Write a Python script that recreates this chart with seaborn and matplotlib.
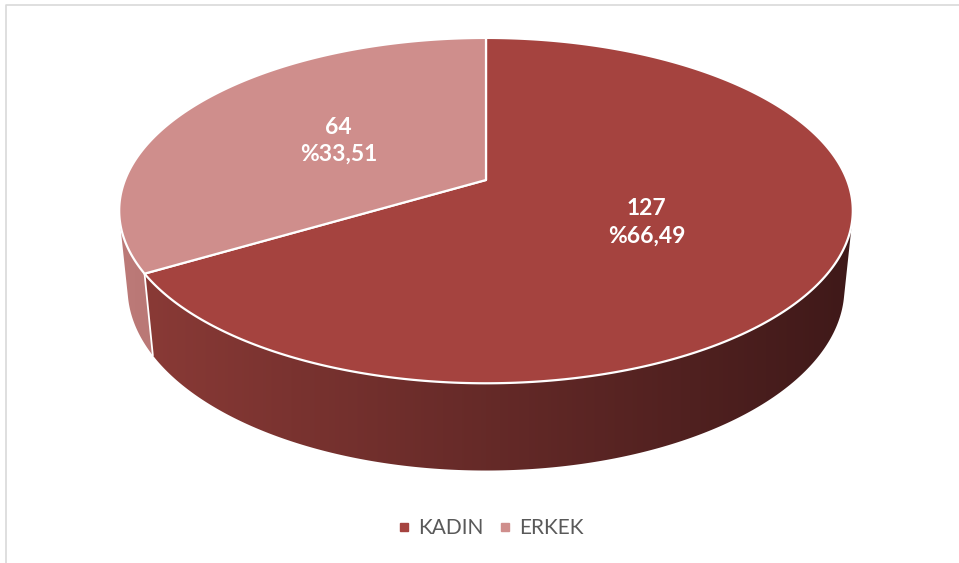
import numpy as np
import matplotlib
matplotlib.use("Agg")
import matplotlib.pyplot as plt
import seaborn as sns
from matplotlib.patches import Polygon
from matplotlib.lines import Line2D
from matplotlib.colors import to_rgb

# ---- data ----
categories = ["KADIN", "ERKEK"]
counts = [127, 64]
percent_labels = ["%66,49", "%33,51"]
top_colors = ["#a5433f", "#cf8e8c"]
side_left_colors = ["#8c3b37", "#bc7a78"]
side_right_colors = ["#3f1919", "#8a4a48"]

sns.set_theme(style="white")
plt.rcParams['font.family'] = ['Lato', 'DejaVu Sans']

W, H = 959, 563
fig = plt.figure(figsize=(W / 100, H / 100), dpi=100)
ax = fig.add_axes([0, 0, 1, 1])
ax.set_xlim(0, W)
ax.set_ylim(H, 0)
ax.axis('off')

# ---- 3D projection of the pie ----
CX, CY = 486, 180
S = 361.0
L = 5.0
PHI = np.radians(27.6)
T = 0.245
cphi, sphi = np.cos(PHI), np.sin(PHI)


def proj(u, v, y):
    depth = -y * sphi + v * cphi + L
    up = y * cphi + v * sphi
    return CX + S * L * u / depth, CY - S * L * up / depth


def arc(a1, a2, y, n=300):
    th = np.radians(np.linspace(a1, a2, n))
    return proj(np.cos(th), np.sin(th), y)


total = float(sum(counts))
fracs = [c / total for c in counts]
starts, ends = [], []
a = 90.0
for f in fracs:
    starts.append(a)
    ends.append(a - 360 * f)
    a -= 360 * f

# visible wall range (outer wall faces the camera)
lim = np.degrees(np.arcsin(1.0 / (L * cphi)))
vis_lo, vis_hi = -180 + lim, -lim  # in degrees

xmin_pie, xmax_pie = 119, 853

# walls with horizontal gradient, clipped to wall polygon
for i in range(len(counts)):
    hi, lo = starts[i], ends[i]
    for shift in (0, -360, 360):
        a_hi = min(hi + shift, vis_hi)
        a_lo = max(lo + shift, vis_lo)
        if a_hi <= a_lo:
            continue
        tx, ty = arc(a_lo, a_hi, 0)
        bx, by = arc(a_hi, a_lo, -T)
        pts = list(zip(tx, ty)) + list(zip(bx, by))
        poly = Polygon(pts, closed=True, facecolor="none", edgecolor="none")
        ax.add_patch(poly)
        cl = np.array(to_rgb(side_left_colors[i]))
        cr = np.array(to_rgb(side_right_colors[i]))
        wgt = np.linspace(0, 1, 400)[None, :, None]
        grad = cl * (1 - wgt) + cr * wgt
        grad = np.repeat(grad, 2, axis=0)
        im = ax.imshow(grad, extent=[xmin_pie, xmax_pie, 480, 170],
                       aspect='auto', interpolation='bilinear', zorder=2)
        im.set_clip_path(poly)

ax.set_xlim(0, W)
ax.set_ylim(H, 0)

# white vertical edges at slice boundaries on the visible wall
for b in starts:
    bb = ((b + 180) % 360) - 180
    if vis_lo < bb < vis_hi:
        t = np.radians(bb)
        x1, y1 = proj(np.cos(t), np.sin(t), 0)
        x2, y2 = proj(np.cos(t), np.sin(t), -T)
        ax.plot([x1, x2], [y1, y2], color="white", lw=1.3, zorder=3)

# top faces
for i in range(len(counts)):
    xs, ys = arc(starts[i], ends[i], 0)
    pts = [(CX, CY)] + list(zip(xs, ys))
    ax.add_patch(Polygon(pts, closed=True, facecolor=top_colors[i],
                         edgecolor="white", lw=1.6, joinstyle="round",
                         zorder=4))

# labels
for i in range(len(counts)):
    mid = np.radians((starts[i] + ends[i]) / 2)
    lx, ly = proj(0.49 * np.cos(mid), 0.49 * np.sin(mid), 0)
    ax.text(lx, ly, f"{counts[i]}\n{percent_labels[i]}", color="white",
            fontsize=16.5, fontweight="bold", ha="center", va="center",
            linespacing=1.35, zorder=6)

# legend
handles = [Line2D([], [], marker='s', linestyle='', color=c, markersize=6)
           for c in top_colors]
ax.legend(handles, categories, ncol=2, frameon=False, loc='center',
          bbox_to_anchor=(0.511, 1 - 528 / H), prop={'family': 'Lato', 'size': 15},
          labelcolor='#595959', handletextpad=0.35, columnspacing=0.65,
          handlelength=0.7)

# chart area frame
ax.plot([6, 6, W + 5], [H + 5, 5, 5], color="#d9d9d9", lw=1.2, zorder=1,
        clip_on=False)

fig.savefig("out.png", dpi=100)
